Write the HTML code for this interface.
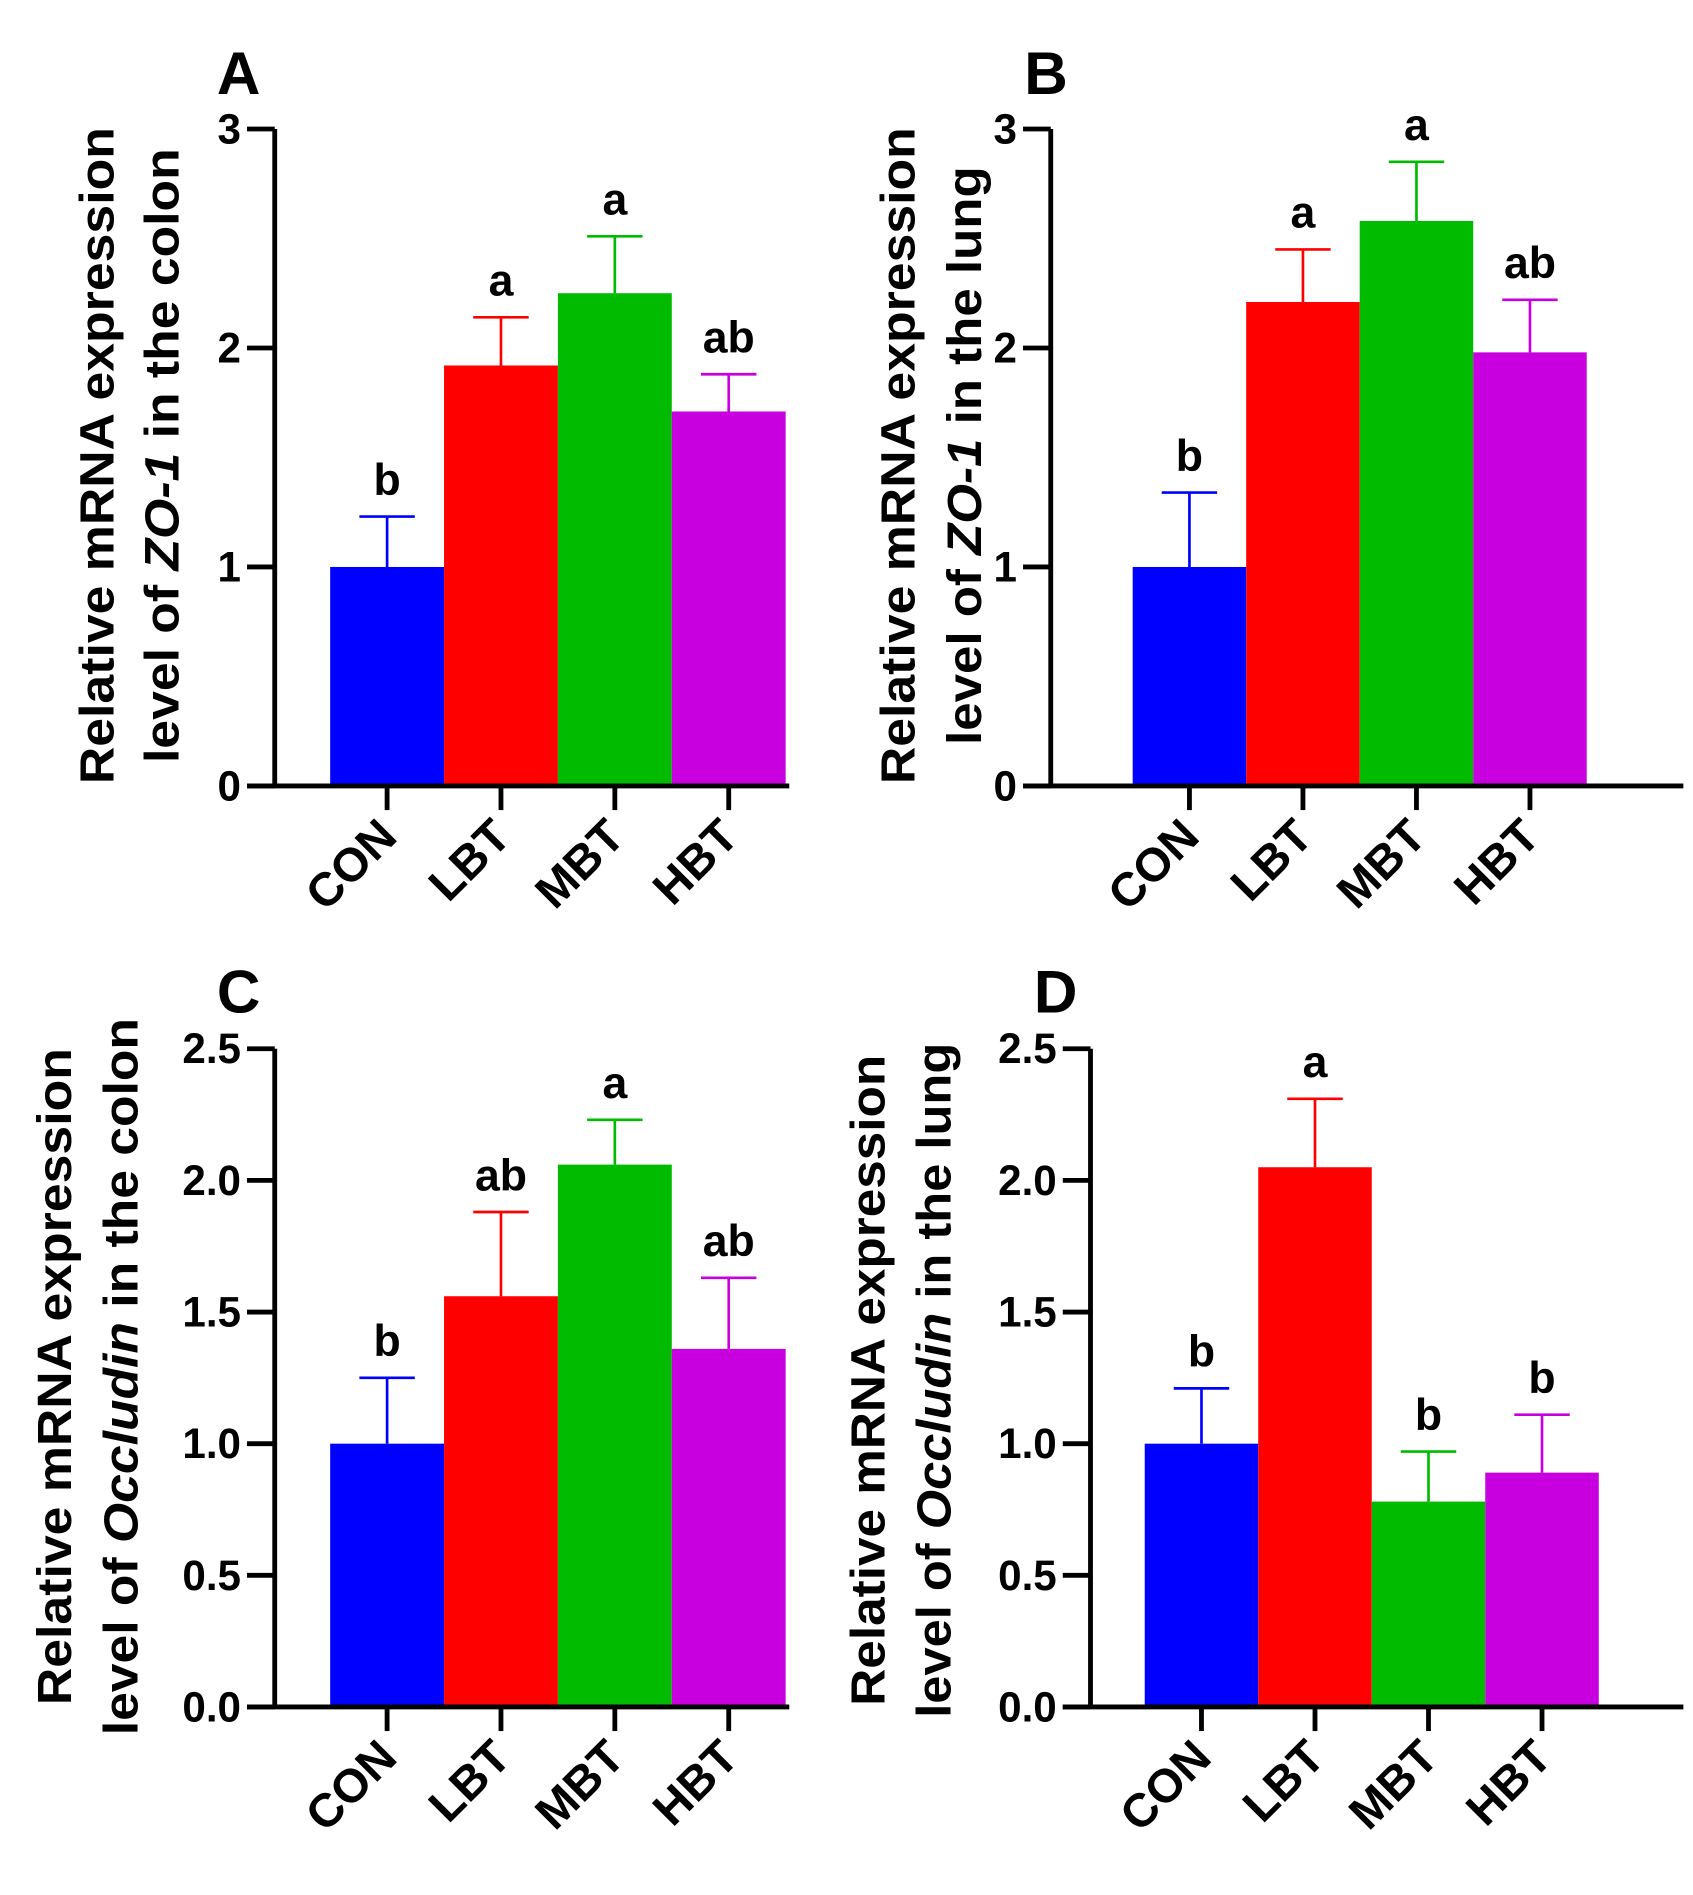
<!DOCTYPE html>
<html><head><meta charset="utf-8"><style>
html,body{margin:0;padding:0;background:#fff}
svg{display:block}
text{font-family:"Liberation Sans",Arial,sans-serif;font-weight:bold;fill:#000}
</style></head><body>
<svg id="fig" width="1693" height="1895" viewBox="0 0 1405 1572" preserveAspectRatio="none" xmlns="http://www.w3.org/2000/svg"></svg>
<script>
const categories = ["CON","LBT","MBT","HBT"];
const colors = ["#0000ff","#ff0000","#00bb00","#c800e0"];
const valuesA = [1.0, 1.92, 2.25, 1.71];
const errA = [1.23, 2.14, 2.51, 1.88];
const lettersA = ["b","a","a","ab"];
const valuesB = [1.0, 2.21, 2.58, 1.98];
const errB = [1.34, 2.45, 2.85, 2.22];
const lettersB = ["b","a","a","ab"];
const valuesC = [1.0, 1.56, 2.06, 1.36];
const errC = [1.25, 1.88, 2.23, 1.63];
const lettersC = ["b","ab","a","ab"];
const valuesD = [1.0, 2.05, 0.78, 0.89];
const errD = [1.21, 2.31, 0.97, 1.11];
const lettersD = ["b","a","b","b"];
const ticksAB = ["0","1","2","3"];
const ticksCD = ["0.0","0.5","1.0","1.5","2.0","2.5"];

const NS="http://www.w3.org/2000/svg";
const svg=document.getElementById('fig');
function mk(tag,attrs,parent,txt){const e=document.createElementNS(NS,tag);for(const k in attrs)e.setAttribute(k,attrs[k]);if(txt!==undefined)e.textContent=txt;(parent||svg).appendChild(e);return e;}

function panel(cfg){
  const g=mk('g',{});
  
  
  const y0=cfg.yZero, yTop=cfg.yTopPx, max=cfg.max;
  const yS=v=>y0-(v/max)*(y0-yTop);
  const bw=cfg.barW, xs=i=>cfg.barX0+i*bw;
  const pl=mk('text',{x:cfg.lx,y:cfg.ly,'font-size':50},g,cfg.id);
  
  
  categories.forEach((c,i)=>{
    const v=cfg.values[i], e=cfg.err[i], cx=xs(i)+bw/2;
    const b=mk('rect',{x:xs(i),y:yS(v),width:bw,height:y0-yS(v),fill:colors[i]},g);
    
    
    const eb=mk('path',{d:`M${cx},${yS(v)}V${yS(e)}M${cx-23},${yS(e)}H${cx+23}`,stroke:colors[i],'stroke-width':2.2,fill:'none'},g);
    
    
    const lt=mk('text',{x:cx,y:yS(e)-18,'font-size':37,'text-anchor':'middle'},g,cfg.letters[i]);
    
    
    const tk=mk('line',{x1:cx,y1:y0,x2:cx,y2:y0+20,stroke:'#000','stroke-width':4},g);
    
    
    const cl=mk('text',{x:cx+10,y:y0+44,'font-size':39,'text-anchor':'end',transform:`rotate(-45 ${cx+10} ${y0+44})`},g,c);
    
    
  });
  const ax=mk('path',{d:`M${cfg.axX},${yTop}V${y0}M${cfg.axX-23},${y0}H${cfg.xEnd}`,stroke:'#000','stroke-width':4,fill:'none'},g);
  
  
  cfg.ticks.forEach((t,i)=>{
    const v=max*i/(cfg.ticks.length-1), y=yS(v);
    const tl=mk('line',{x1:cfg.axX-23,y1:y,x2:cfg.axX,y2:y,stroke:'#000','stroke-width':4},g);
    
    
    const tt=mk('text',{x:cfg.axX-28,y:y+12,'font-size':35,'text-anchor':'end'},g,t);
    
    
  });
  const t1=mk('text',{x:cfg.t1x,y:cfg.tcy,'font-size':40,'text-anchor':'middle',textLength:cfg.l1,lengthAdjust:'spacingAndGlyphs',transform:`rotate(-90 ${cfg.t1x} ${cfg.tcy})`},g,'Relative mRNA expression');
  
  
  const t2=mk('text',{x:cfg.t2x,y:cfg.tcy,'font-size':40,'text-anchor':'middle',textLength:cfg.l2,lengthAdjust:'spacingAndGlyphs',transform:`rotate(-90 ${cfg.t2x} ${cfg.tcy})`},g);
  
  
  mk('tspan',{},t2,'level of ');
  mk('tspan',{'font-style':'italic'},t2,cfg.gene);
  mk('tspan',{},t2,' in the '+cfg.tissue);
}
panel({id:'A',lx:180,ly:78,values:valuesA,err:errA,letters:lettersA,ticks:ticksAB,max:3,yZero:652,yTopPx:107,axX:228,xEnd:655,barX0:274,barW:94.5,t1x:94,t2x:148,tcy:378,l1:545,l2:510,gene:'ZO-1',tissue:'colon'});
panel({id:'B',lx:850,ly:78,values:valuesB,err:errB,letters:lettersB,ticks:ticksAB,max:3,yZero:652,yTopPx:107,axX:872,xEnd:1397,barX0:940,barW:94.2,t1x:759,t2x:814,tcy:378,l1:545,l2:480,gene:'ZO-1',tissue:'lung'});
panel({id:'C',lx:180,ly:840,values:valuesC,err:errC,letters:lettersC,ticks:ticksCD,max:2.5,yZero:1416,yTopPx:870,axX:228,xEnd:655,barX0:274,barW:94.5,t1x:59,t2x:114,tcy:1142,l1:545,l2:595,gene:'Occludin',tissue:'colon'});
panel({id:'D',lx:858,ly:840,values:valuesD,err:errD,letters:lettersD,ticks:ticksCD,max:2.5,yZero:1416,yTopPx:870,axX:905,xEnd:1397,barX0:950,barW:94.2,t1x:734,t2x:789,tcy:1145,l1:540,l2:560,gene:'Occludin',tissue:'lung'});
</script>
</body></html>
